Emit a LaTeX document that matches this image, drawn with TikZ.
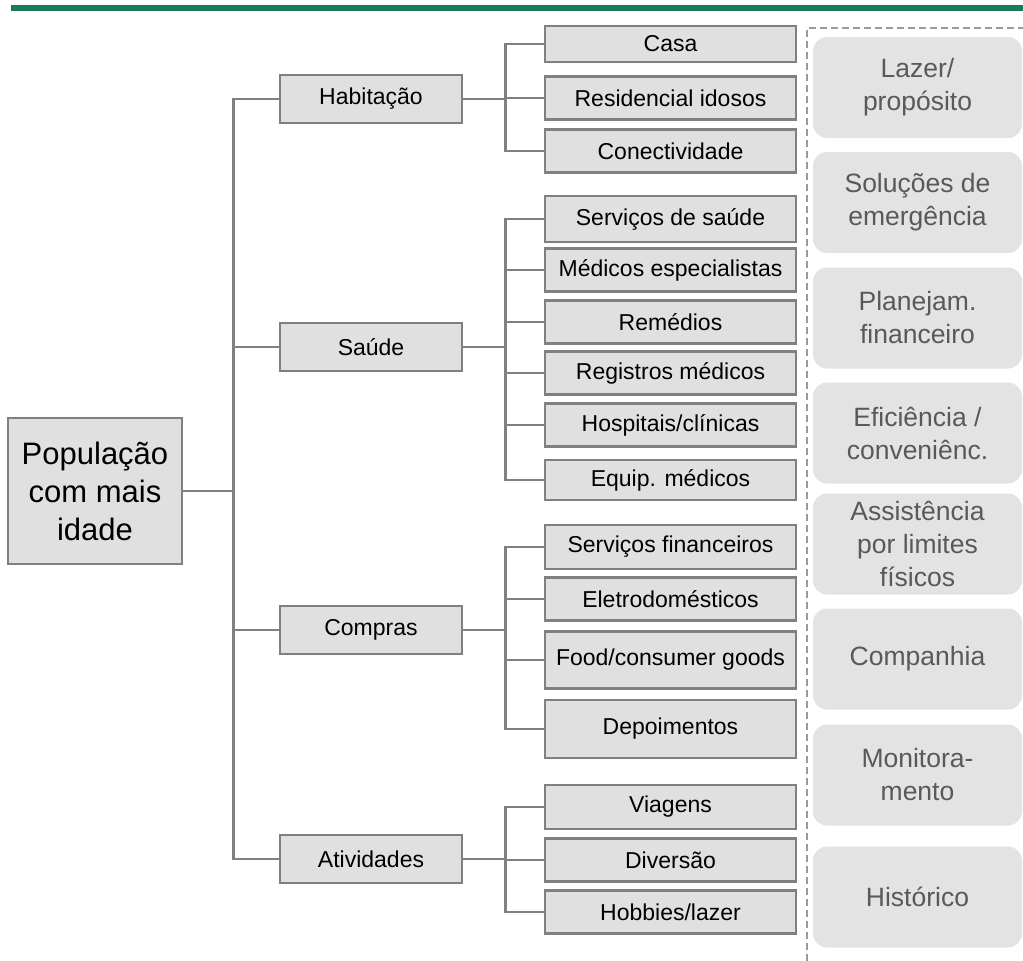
\documentclass[tikz,border=0pt]{standalone}
\usepackage{fontspec}
\setmainfont{Liberation Sans}

\definecolor{barGreen}{HTML}{1B7A57}
\definecolor{boxFill}{HTML}{E0E0E0}
\definecolor{boxLine}{HTML}{808080}
\definecolor{tagFill}{HTML}{E3E3E3}
\definecolor{tagText}{HTML}{595959}
\definecolor{dashGray}{HTML}{9A9A9A}

\begin{document}
\begin{tikzpicture}[x = 1pt, y = -1pt,
  box/.style = {draw = boxLine, fill = boxFill, line width = 2.5pt, inner sep = 0pt, align = center},
  rootbox/.style = {box, minimum width = 174pt, minimum height = 146pt, font = \fontsize{31}{38}\selectfont},
  catbox/.style = {box, minimum width = 182pt, minimum height = 48pt, font = \fontsize{23}{27}\selectfont},
  itembox/.style = {box, minimum width = 251pt, minimum height = 43pt, font = \fontsize{23}{27}\selectfont},
  tagbox/.style = {fill = tagFill, rounded corners = 14pt, minimum width = 209pt, minimum height = 101pt,
    inner sep = 0pt, align = center, text = tagText, font = \fontsize{26.5}{33}\selectfont},
  conn/.style = {draw = boxLine, line width = 2.5pt},
  sepline/.style = {draw = dashGray, line width = 1.5pt, dash pattern = on 7pt off 4pt}]
\useasboundingbox (0, 0) rectangle (1023, 961);
\fill[barGreen] (11, 5) rectangle (1023, 11);
\draw[sepline] (807, 961) -- (807, 28) -- (1023, 28);

\node[rootbox] (root) at (95, 491) {População\\com mais\\idade};

\node[catbox] (hab) at (371, 99) {Habitação};
\node[catbox] (sau) at (371, 347) {Saúde};
\node[catbox] (com) at (371, 630) {Compras};
\node[catbox] (ati) at (371, 859) {Atividades};

\node[itembox, minimum height = 36pt] (casa) at (670.5, 44) {Casa};
\node[itembox] (resid) at (670.5, 98) {Residencial idosos};
\node[itembox] (conect) at (670.5, 151) {Conectividade};

\node[itembox, minimum height = 46pt] (servsau) at (670.5, 219) {Serviços de saúde};
\node[itembox] (medesp) at (670.5, 270) {Médicos especialistas};
\node[itembox] (remed) at (670.5, 322) {Remédios};
\node[itembox] (regmed) at (670.5, 373) {Registros médicos};
\node[itembox] (hosp) at (670.5, 425) {Hospitais/clínicas};
\node[itembox, minimum height = 40pt] (equip) at (670.5, 480) {Equip. médicos};

\node[itembox, minimum height = 44pt] (servfin) at (670.5, 547) {Serviços financeiros};
\node[itembox] (eletro) at (670.5, 599) {Eletrodomésticos};
\node[itembox, minimum height = 57pt] (food) at (670.5, 660) {Food/consumer goods};
\node[itembox, minimum height = 58pt] (depo) at (670.5, 729) {Depoimentos};

\node[itembox, minimum height = 44pt] (viag) at (670.5, 807) {Viagens};
\node[itembox] (divers) at (670.5, 860) {Diversão};
\node[itembox] (hobby) at (670.5, 912) {Hobbies/lazer};

\foreach \c in {hab, sau, com, ati}
  \draw[conn] (root.east) -- ++(50, 0) |- (\c.west);
\foreach \i in {casa, resid, conect}
  \draw[conn] (hab.east) -- ++(42, 0) |- (\i.west);
\foreach \i in {servsau, medesp, remed, regmed, hosp, equip}
  \draw[conn] (sau.east) -- ++(42, 0) |- (\i.west);
\foreach \i in {servfin, eletro, food, depo}
  \draw[conn] (com.east) -- ++(42, 0) |- (\i.west);
\foreach \i in {viag, divers, hobby}
  \draw[conn] (ati.east) -- ++(42, 0) |- (\i.west);

\node[tagbox] (lazer) at (917.5, 87.5) {Lazer/\\propósito};
\node[tagbox] (emerg) at (917.5, 202.5) {Soluções de\\emergência};
\node[tagbox] (planej) at (917.5, 318) {Planejam.\\financeiro};
\node[tagbox] (efic) at (917.5, 433) {Eficiência /\\conveniênc.};
\node[tagbox] (assist) at (917.5, 544) {Assistência\\por limites\\físicos};
\node[tagbox] (compan) at (917.5, 659) {Companhia};
\node[tagbox] (monit) at (917.5, 775) {Monitora-\\mento};
\node[tagbox] (hist) at (917.5, 897) {Histórico};
\end{tikzpicture}
\end{document}
